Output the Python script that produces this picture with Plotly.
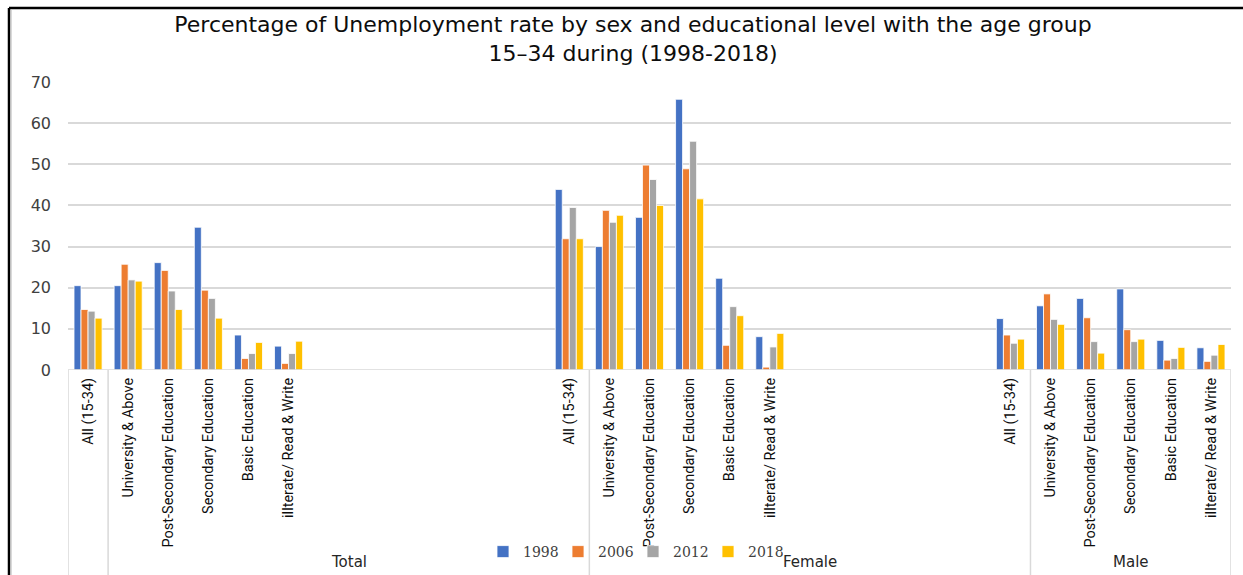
import plotly.graph_objects as go

# ---------------- data ----------------
groups = ["Total", "Female", "Male"]
categories = ["All (15-34)", "University & Above", "Post-Secondary Education",
              "Secondary Education", "Basic Education", "illterate/ Read & Write"]
years = ["1998", "2006", "2012", "2018"]

# values per year: Total (6), Female (6), Male (6)
v1998 = [20.5, 20.5, 26.1, 34.7, 8.5, 5.8,
         43.9, 30.0, 37.1, 65.8, 22.3, 8.1,
         12.5, 15.6, 17.4, 19.7, 7.2, 5.4]
v2006 = [14.7, 25.7, 24.2, 19.4, 2.8, 1.6,
         31.9, 38.8, 49.8, 48.9, 6.0, 0.7,
         8.5, 18.5, 12.7, 9.8, 2.4, 2.1]
v2012 = [14.3, 21.9, 19.2, 17.4, 4.0, 4.0,
         39.5, 35.9, 46.3, 55.6, 15.4, 5.6,
         6.5, 12.3, 6.9, 6.9, 2.8, 3.6]
v2018 = [12.6, 21.6, 14.7, 12.6, 6.7, 7.0,
         31.9, 37.6, 40.0, 41.6, 13.2, 8.9,
         7.5, 11.1, 4.1, 7.5, 5.5, 6.2]
series = [v1998, v2006, v2012, v2018]

colors = ["#4472C4", "#ED7D31", "#A5A5A5", "#FFC000"]

# layout of the original category axis (blank rows between the sex groups)
group_start = [0, 12, 23]
n_slots = 29

xpos = [group_start[g] + i for g in range(len(groups)) for i in range(len(categories))]
ticktext = [c for g in groups for c in categories]

fig = go.Figure()
for yr, vals, col in zip(years, series, colors):
    fig.add_trace(go.Bar(
        x=xpos, y=vals, name=yr,
        marker=dict(color=col, line=dict(color="white", width=0.8)),
    ))

W, H = 1243, 575
L, R, T, B = 68, 12, 82, 205
pw, ph = W - L - R, H - T - B

def px_to_paper_y(py):
    return (H - B - py) / ph

def px_to_paper_x(px):
    return (px - L) / pw

grid = "#d9d9d9"
shapes = []
# axis baseline
shapes.append(dict(type="line", xref="x", yref="y", x0=-0.5, x1=n_slots - 0.5, y0=0, y1=0,
                   line=dict(color=grid, width=1.5)))
# group dividers below axis
div_x = [-0.5, 0.5, group_start[1] + 0.5, group_start[2] + 0.5, n_slots - 0.5]
for dx in div_x:
    shapes.append(dict(type="line", xref="x", yref="paper", x0=dx, x1=dx,
                       y0=0, y1=px_to_paper_y(H + 5), line=dict(color=grid, width=1.5)))
# outer frame (black) and chart-area border
fx = px_to_paper_x(9)
fy = px_to_paper_y(8)
shapes.append(dict(type="line", xref="paper", yref="paper", x0=fx, x1=fx, y0=fy,
                   y1=px_to_paper_y(H + 5), line=dict(color="black", width=2.5)))
shapes.append(dict(type="line", xref="paper", yref="paper", x0=fx, x1=px_to_paper_x(W + 5),
                   y0=fy, y1=fy, line=dict(color="black", width=2.5)))
gx = px_to_paper_x(11.5)
shapes.append(dict(type="line", xref="paper", yref="paper", x0=gx, x1=gx,
                   y0=px_to_paper_y(10), y1=px_to_paper_y(H + 5), line=dict(color=grid, width=1)))

# group labels (centered over the divider spans, as in the original)
label_centers = [(div_x[1] + div_x[2]) / 2, (div_x[2] + div_x[3]) / 2, (div_x[3] + div_x[4]) / 2]
annotations = []
for gname, cx in zip(groups, label_centers):
    annotations.append(dict(text=gname, x=cx, xref="x", y=px_to_paper_y(562), yref="paper",
                            showarrow=False, xanchor="center", yanchor="middle",
                            font=dict(family="DejaVu Sans", size=15, color="#262626")))

fig.update_layout(
    width=W, height=H,
    margin=dict(l=L, r=R, t=T, b=B, autoexpand=False),
    paper_bgcolor="white", plot_bgcolor="white",
    barmode="group", bargap=0.3, bargroupgap=0,
    title=dict(
        text="Percentage of Unemployment rate by sex and educational level with the age group<br>15–34 during (1998-2018)",
        x=633 / W, xanchor="center", xref="container",
        y=1 - 32 / H, yanchor="middle", yref="container",
        font=dict(family="DejaVu Sans", size=22, color="#0d0d0d"),
    ),
    xaxis=dict(
        range=[-0.5, n_slots - 0.5], showgrid=False, zeroline=False, showline=False,
        tickmode="array", tickvals=xpos, ticktext=ticktext, tickangle=-90,
        ticks="", ticklabelstandoff=4,
        tickfont=dict(family="Roboto", size=14.5, color="#0d0d0d"),
    ),
    yaxis=dict(
        range=[0, 70], dtick=10, showgrid=True, gridcolor=grid, gridwidth=1.5,
        zeroline=False, showline=False, ticks="", ticklabelstandoff=16,
        tickfont=dict(family="DejaVu Sans", size=16, color="#404040"),
    ),
    legend=dict(
        orientation="h", x=px_to_paper_x(483), xanchor="left",
        y=px_to_paper_y(552), yanchor="middle",
        entrywidth=30, entrywidthmode="pixels",
        font=dict(family="DejaVu Serif", size=14, color="#404040"),
        bgcolor="rgba(0,0,0,0)", traceorder="normal",
    ),
    shapes=shapes,
    annotations=annotations,
    showlegend=True,
)

fig.write_html("out.html")
